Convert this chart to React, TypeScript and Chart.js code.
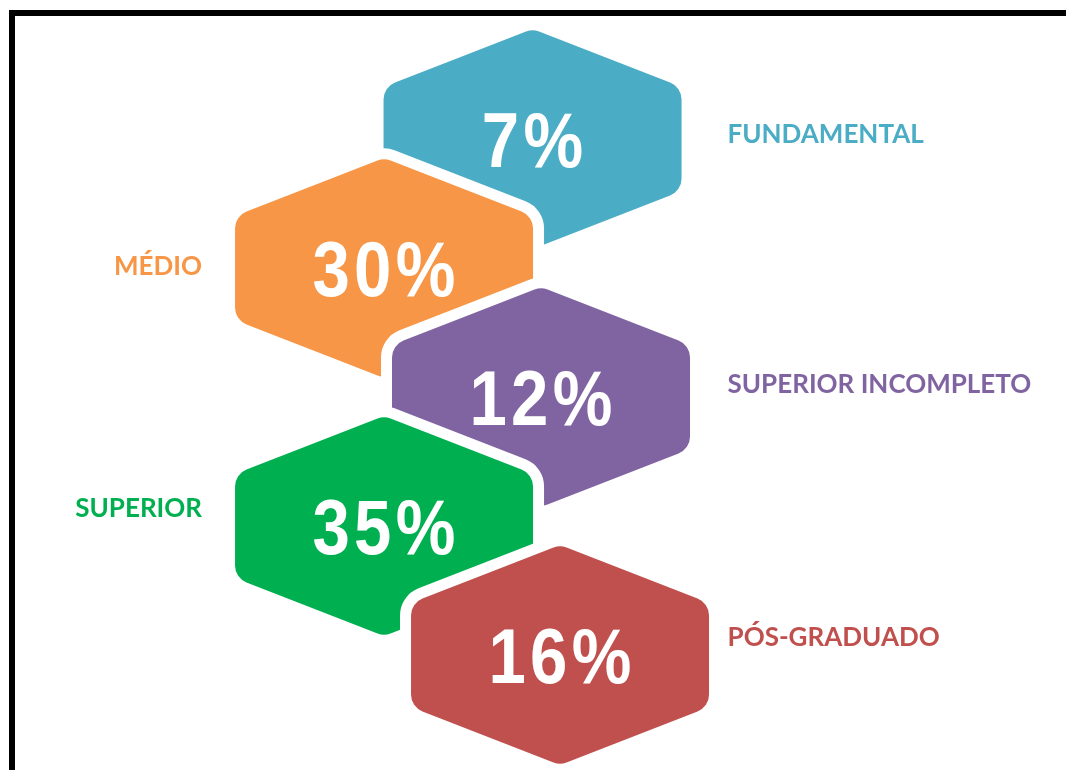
import React, { useEffect, useRef } from "react";
import { Chart, registerables } from "chart.js";

Chart.register(...registerables);

// ---- data ----
const CATEGORIES = ["FUNDAMENTAL", "MÉDIO", "SUPERIOR INCOMPLETO", "SUPERIOR", "PÓS-GRADUADO"];
const VALUES = [7, 30, 12, 35, 16];
const COLORS = ["#4BACC6", "#F79646", "#8064A2", "#00B050", "#C0504D"];

// ---- layout (style) ----
const COLUMN = [1, 0, 1.057, 0, 1.185]; // staggered column position of each row
const LABEL_DY = [-5, -2, -13, -18, -18];
const HEX_HALF_W = 149;
const HEX_HALF_H = 110;
const HEX_SIDE_HALF = 52;
const HEX_RADIUS = 18;
const GAP = 22;

function hexPath(ctx: CanvasRenderingContext2D, x: number, y: number) {
  const pts = [
    [x, y - HEX_HALF_H],
    [x + HEX_HALF_W, y - HEX_SIDE_HALF],
    [x + HEX_HALF_W, y + HEX_SIDE_HALF],
    [x, y + HEX_HALF_H],
    [x - HEX_HALF_W, y + HEX_SIDE_HALF],
    [x - HEX_HALF_W, y - HEX_SIDE_HALF],
  ];
  const n = pts.length;
  ctx.beginPath();
  const last = pts[n - 1];
  const first = pts[0];
  ctx.moveTo((last[0] + first[0]) / 2, (last[1] + first[1]) / 2);
  for (let i = 0; i < n; i++) {
    const p = pts[i];
    const q = pts[(i + 1) % n];
    ctx.arcTo(p[0], p[1], q[0], q[1], HEX_RADIUS);
  }
  ctx.closePath();
}

const hexPlugin = {
  id: "hexPlugin",
  beforeDraw(chart: any) {
    const ctx = chart.ctx;
    ctx.save();
    ctx.fillStyle = "#ffffff";
    ctx.fillRect(0, 0, chart.width, chart.height);
    ctx.fillStyle = "#000000";
    ctx.fillRect(9, 10, 6, chart.height - 10);
    ctx.fillRect(9, 10, chart.width - 9, 6);
    ctx.restore();
  },
  afterDatasetsDraw(chart: any) {
    const ctx = chart.ctx as CanvasRenderingContext2D;
    const meta = chart.getDatasetMeta(0);
    const xScale = chart.scales.x;
    ctx.save();
    meta.data.forEach((el: any, i: number) => {
      const x = el.x;
      const y = el.y;
      hexPath(ctx, x, y);
      ctx.lineJoin = "round";
      ctx.lineWidth = GAP;
      ctx.strokeStyle = "#ffffff";
      ctx.stroke();
      ctx.fillStyle = COLORS[i];
      ctx.fill();
      ctx.save();
      ctx.translate(x + 2, y + 28);
      ctx.scale(0.86, 1);
      ctx.fillStyle = "#ffffff";
      ctx.font = "bold 78px 'Liberation Sans', Arial, sans-serif";
      (ctx as any).letterSpacing = "5px";
      ctx.textAlign = "center";
      ctx.textBaseline = "alphabetic";
      ctx.fillText(`${VALUES[i]}%`, 0, 0);
      ctx.restore();
    });
    // category labels
    const rightAnchor = xScale.getPixelForValue(1) + 195;
    const leftAnchor = xScale.getPixelForValue(0) - 182;
    meta.data.forEach((el: any, i: number) => {
      const isRight = COLUMN[i] > 0.5;
      ctx.font = "bold 26px Lato";
      ctx.fillStyle = COLORS[i];
      ctx.textBaseline = "alphabetic";
      ctx.textAlign = isRight ? "left" : "right";
      ctx.fillText(CATEGORIES[i], isRight ? rightAnchor : leftAnchor, el.y + LABEL_DY[i] + 9);
    });
    ctx.restore();
  },
};

export default function App() {
  const canvasRef = useRef<HTMLCanvasElement | null>(null);

  useEffect(() => {
    if (!canvasRef.current) return;
    const chart = new Chart(canvasRef.current, {
      type: "scatter",
      data: {
        labels: CATEGORIES,
        datasets: [
          {
            label: "Escolaridade",
            data: VALUES.map((v, i) => ({ x: COLUMN[i], y: i, v })),
            pointRadius: 0,
            pointHoverRadius: 0,
            backgroundColor: COLORS,
          },
        ],
      },
      options: {
        animation: false,
        responsive: true,
        maintainAspectRatio: false,
        events: [],
        layout: { padding: 0 },
        plugins: {
          legend: { display: false },
          tooltip: { enabled: false },
          title: { display: false },
        },
        scales: {
          x: { type: "linear", display: false, min: -2.586, max: 4.592 },
          y: { type: "linear", display: false, reverse: true, min: -1.0775, max: 4.8915 },
        },
      },
      plugins: [hexPlugin],
    });
    return () => chart.destroy();
  }, []);

  return (
    <div style={{ position: "absolute", left: 0, top: 0, width: 1066, height: 770 }}>
      <canvas ref={canvasRef} />
    </div>
  );
}
